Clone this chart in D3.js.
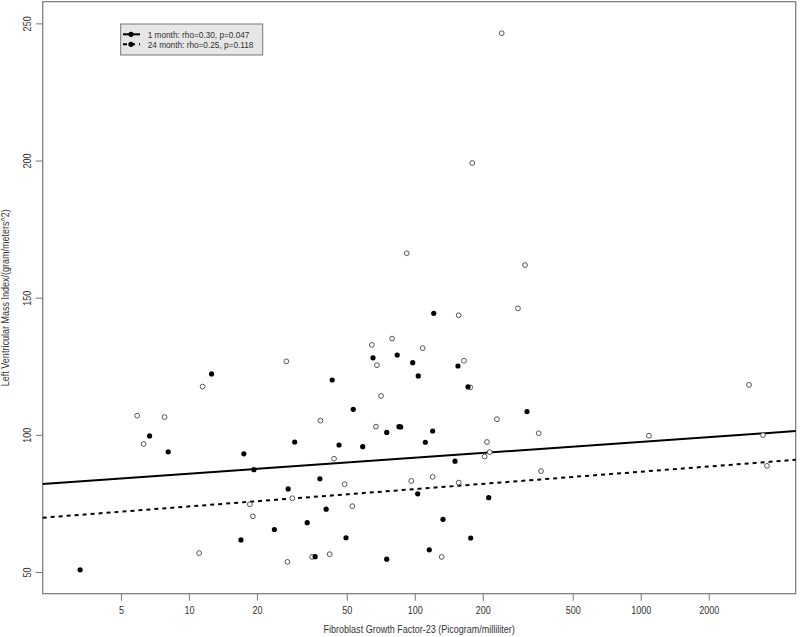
<!DOCTYPE html>
<html>
<head>
<meta charset="utf-8">
<script src="https://cdn.jsdelivr.net/npm/d3@7"></script>
<style>
  body { margin: 0; background: #fff; }
  svg text { font-family: "Liberation Sans", Arial, sans-serif; fill: #333; }
</style>
</head>
<body>
<svg id="chart" xmlns="http://www.w3.org/2000/svg" width="800" height="637"></svg>
<script>
// open circles
var month1X = [27.0, 11.5, 5.9, 7.8, 6.3, 19.2, 18.6, 28.7, 11.1, 27.3, 64.5, 79.3, 108.4, 68.0, 165.1, 176.1, 70.9, 38.2, 231.1, 67.3, 353.6, 208.7, 43.9, 214.6, 203.9, 362.0, 48.9, 96.5, 120.0, 156.4, 52.9, 35.1, 42.0, 131.5, 242.5, 179.7, 92.1, 307.5, 286.3, 156.4, 3016, 1088, 3478, 3623];
var month1Y = [126.8, 117.6, 107.0, 106.5, 96.7, 70.3, 74.7, 76.9, 56.9, 53.7, 132.8, 135.1, 131.6, 125.4, 127.0, 117.3, 114.2, 105.2, 105.7, 103.0, 100.6, 97.4, 91.3, 93.7, 92.1, 86.8, 82.0, 83.2, 84.7, 82.6, 74.0, 55.5, 56.5, 55.5, 246.4, 199.1, 166.2, 161.9, 146.1, 143.6, 118.2, 99.7, 99.9, 88.7];
// filled circles
var month24X = [12.6, 6.7, 8.1, 17.5, 19.4, 29.4, 27.5, 23.9, 17.0, 3.3, 65.3, 83.6, 97.9, 155.3, 43.1, 103.6, 172.0, 53.4, 313.9, 75.1, 85.1, 86.6, 120.0, 46.2, 58.8, 111.3, 150.7, 38.0, 103.0, 212.4, 40.5, 33.4, 133.3, 49.6, 176.8, 115.9, 36.2, 75.1, 121.3];
var month24Y = [122.2, 99.6, 93.8, 93.1, 87.3, 97.4, 80.3, 65.5, 61.7, 50.8, 128.1, 129.1, 126.3, 125.1, 120.0, 121.5, 117.5, 109.3, 108.5, 100.9, 103.0, 102.9, 101.4, 96.3, 95.7, 97.3, 90.4, 84.0, 78.5, 77.1, 72.9, 68.0, 69.2, 62.5, 62.4, 58.1, 55.6, 54.7, 144.3];

// fitted lines: y = intercept + slope * log10(x)
var fitIntercept = [80.06, 67.57];
var fitSlope = [5.79, 6.33];
var legendLabels = ["1 month: rho=0.30, p=0.047", "24 month: rho=0.25, p=0.118"];

var xTicks = [5, 10, 20, 50, 100, 200, 500, 1000, 2000];
var yTicks = [50, 100, 150, 200, 250];

var svg = d3.select("#chart");
var plotL = 42.7, plotR = 795.7, plotT = 1.7, plotB = 593.7;
var squeeze = " scale(0.82,1)"; // the reference font is a narrow one

var x = d3.scaleLog().domain([2.253, 4856]).range([plotL, plotR]);
var y = d3.scaleLinear().domain([42.1, 257.9]).range([plotB, plotT]);

// axes
var xAxis = svg.append("g")
  .attr("transform", "translate(0," + plotB + ")")
  .call(d3.axisBottom(x).tickValues(xTicks).tickFormat(d3.format("d")).tickSize(7).tickPadding(5));
var yAxis = svg.append("g")
  .attr("transform", "translate(" + plotL + ",0)")
  .call(d3.axisLeft(y).tickValues(yTicks).tickSize(7).tickPadding(5));

[xAxis, yAxis].forEach(function(a) {
  a.select(".domain").remove();
  a.selectAll("line").attr("stroke", "#777");
  a.selectAll("text").attr("font-size", 11).attr("fill", "#333")
    .style("font-family", "'Liberation Sans', Arial, sans-serif");
});
xAxis.selectAll("text").attr("dy", "0.71em").attr("y", 12).attr("transform", "scale(0.82,1)");
yAxis.selectAll("text")
  .attr("x", null).attr("dy", null)
  .attr("text-anchor", "middle")
  .attr("transform", "translate(-12,0) rotate(-90)" + squeeze);

svg.append("rect")
  .attr("x", plotL).attr("y", plotT)
  .attr("width", plotR - plotL).attr("height", plotB - plotT)
  .attr("fill", "none").attr("stroke", "#777").attr("stroke-width", 1.2);

// titles
svg.append("text")
  .attr("transform", "translate(" + ((plotL + plotR) / 2) + ",633)" + squeeze)
  .attr("text-anchor", "middle").attr("font-size", 11)
  .text("Fibroblast Growth Factor-23 (Picogram/milliliter)");
svg.append("text")
  .attr("transform", "translate(9," + ((plotT + plotB) / 2) + ") rotate(-90)" + squeeze)
  .attr("text-anchor", "middle").attr("font-size", 11)
  .text("Left Ventricular Mass Index/(gram/meters^2)");

// fit lines
var dom = x.domain();
[0, 1].forEach(function(i) {
  svg.append("line")
    .attr("x1", x(dom[0])).attr("y1", y(fitIntercept[i] + fitSlope[i] * Math.log10(dom[0])))
    .attr("x2", x(dom[1])).attr("y2", y(fitIntercept[i] + fitSlope[i] * Math.log10(dom[1])))
    .attr("stroke", "#000").attr("stroke-width", 2)
    .attr("stroke-dasharray", i === 1 ? "4,4" : null);
});

// points
svg.selectAll("circle.m1")
  .data(d3.range(month1X.length))
  .enter().append("circle")
  .attr("class", "m1")
  .attr("cx", function(i) { return x(month1X[i]); })
  .attr("cy", function(i) { return y(month1Y[i]); })
  .attr("r", 2.4)
  .attr("fill", "#fff").attr("stroke", "#555").attr("stroke-width", 1);

svg.selectAll("circle.m24")
  .data(d3.range(month24X.length))
  .enter().append("circle")
  .attr("class", "m24")
  .attr("cx", function(i) { return x(month24X[i]); })
  .attr("cy", function(i) { return y(month24Y[i]); })
  .attr("r", 2.6)
  .attr("fill", "#000");

// legend
var lg = svg.append("g");
lg.append("rect")
  .attr("x", 120.7).attr("y", 24)
  .attr("width", 142).attr("height", 31)
  .attr("fill", "#e6e6e6").attr("stroke", "#777").attr("stroke-width", 1);
legendLabels.forEach(function(label, i) {
  var ly = 34.3 + i * 10;
  lg.append("line")
    .attr("x1", 123).attr("x2", 140).attr("y1", ly).attr("y2", ly)
    .attr("stroke", "#000").attr("stroke-width", 2)
    .attr("stroke-dasharray", i === 1 ? "4,4" : null);
  lg.append("circle").attr("cx", 131).attr("cy", ly).attr("r", 2.6).attr("fill", "#000");
  lg.append("text")
    .attr("transform", "translate(147.7," + (ly + 3.3) + ")" + " scale(0.86,1)")
    .attr("font-size", 9.6)
    .text(label);
});
</script>
</body>
</html>
